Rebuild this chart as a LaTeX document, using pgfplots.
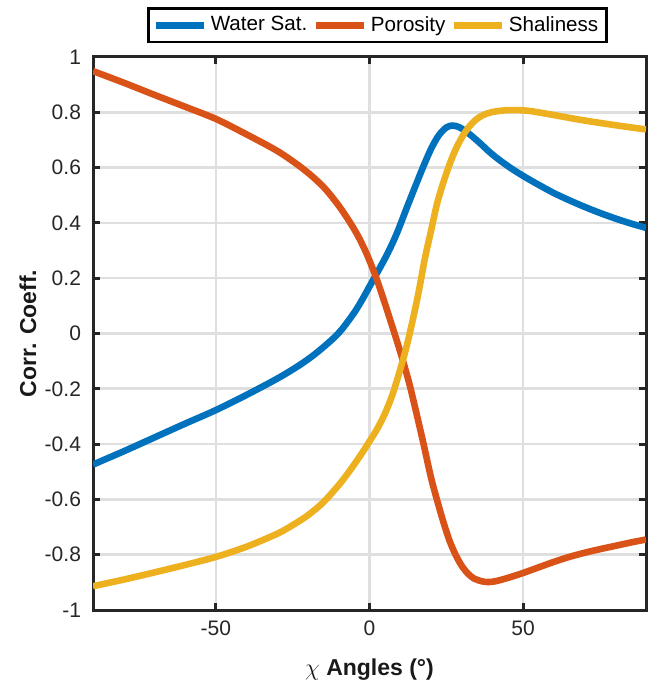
\documentclass[border=0pt]{standalone}
\usepackage{pgfplots}
\pgfplotsset{compat=1.18}
\usepackage{fontspec}
\setmainfont{Liberation Sans}
\definecolor{mblue}{rgb}{0,0.447,0.741}
\definecolor{morange}{rgb}{0.85,0.325,0.098}
\definecolor{myellow}{rgb}{0.929,0.694,0.125}
\begin{document}
\begin{tikzpicture}
\begin{axis}[name=ax, scale only axis, width=276.5pt, height=276.5pt,
  xmin=-90, xmax=90, ymin=-1, ymax=1,
  xtick={-50,0,50},
  ytick={-1,-0.8,-0.6,-0.4,-0.2,0,0.2,0.4,0.6,0.8,1},
  /pgf/number format/assume math mode=true,
  ticklabel style={font=\fontsize{10.5}{12}\selectfont, text=black!85},
  yticklabel style={xshift=-2.5pt},
  xticklabel style={yshift=-2pt},
  axis line style={line width=1.5pt, black!85},
  tick style={line width=1.5pt, black!85},
  major tick length=3.5pt,
  grid=major,
  major grid style={line width=1.3pt, gray!25},
  xlabel={$\chi$ \textbf{Angles (°)}},
  ylabel={\textbf{Corr. Coeff.}},
  label style={font=\fontsize{11.5}{13}\selectfont, text=black!90},
  xlabel style={at={(axis description cs:0.5,0)}, anchor=center, yshift=-30pt},
  ylabel style={at={(axis description cs:0,0.5)}, anchor=center, yshift=32.5pt},
  legend columns=3,
  legend style={at={(0.514,1.025)}, anchor=south, draw=black, line width=1.3pt,
    font=\fontsize{10.3}{12}\selectfont, inner xsep=2pt, inner ysep=1.8pt,
    /tikz/every even column/.append style={column sep=0.5pt}},
  legend image code/.code={\draw[#1] (0pt,0pt) -- (24pt,0pt);},
  every axis plot/.append style={line width=3.3pt, smooth},
]
\addplot[mblue] coordinates {
(-90,-0.474) (-80,-0.426) (-70,-0.376) (-60,-0.326) (-50,-0.277) (-40,-0.222)
(-30,-0.163) (-23,-0.116) (-17.7,-0.074) (-12.2,-0.022) (-9,0.015) (-5,0.075)
(-2.5,0.12) (0,0.17) (3,0.23) (6,0.292) (9,0.365) (12.5,0.465) (17,0.59)
(20,0.667) (22.5,0.716) (25,0.745) (27,0.752) (29,0.747) (31,0.734) (33,0.717)
(36,0.688) (39,0.657) (42,0.63) (46,0.598) (50,0.57) (55,0.538) (60,0.508)
(65,0.482) (70,0.458) (75,0.436) (80,0.416) (85,0.398) (90,0.382)
};
\addlegendentry{Water Sat.}
\addplot[morange] coordinates {
(-90,0.949) (-80,0.907) (-70,0.863) (-60,0.82) (-50,0.776) (-40,0.72) (-30,0.66)
(-23,0.607) (-18,0.562) (-14,0.518) (-10,0.462) (-7,0.413) (-4,0.358) (-1,0.29)
(2,0.207) (4.5,0.126) (7,0.04) (9,-0.03) (11,-0.103) (13,-0.183) (15,-0.275)
(17.5,-0.395) (20,-0.52) (22,-0.603) (24,-0.68) (26,-0.748) (28,-0.80) (30,-0.84)
(32,-0.868) (34,-0.886) (36.5,-0.896) (38.5,-0.899) (41,-0.896) (45,-0.884)
(50,-0.866) (55,-0.846) (60,-0.826) (65,-0.808) (70,-0.793) (75,-0.78) (80,-0.768)
(85,-0.756) (90,-0.745)
};
\addlegendentry{Porosity}
\addplot[myellow] coordinates {
(-90,-0.914) (-80,-0.89) (-70,-0.864) (-60,-0.837) (-50,-0.808) (-40,-0.771)
(-30,-0.724) (-25,-0.693) (-20,-0.657) (-15,-0.61) (-10,-0.548) (-7,-0.505)
(-4,-0.458) (-2,-0.425) (0,-0.39) (2.5,-0.345) (5,-0.29) (7.5,-0.22) (10,-0.13)
(12,-0.05) (14,0.045) (16,0.15) (18,0.27) (20,0.37) (22,0.47) (24,0.545) (26,0.61)
(28,0.665) (30,0.708) (32,0.742) (34.5,0.772) (37,0.79) (40,0.801) (44,0.807)
(48,0.808) (52,0.805) (57,0.796) (62,0.786) (68,0.774) (73,0.765) (79,0.755)
(84,0.747) (90,0.738)
};
\addlegendentry{Shaliness}
\end{axis}
\pgfresetboundingbox
\path ([shift={(-46.5pt,-39pt)}]ax.south west) rectangle ([shift={(4pt,28.5pt)}]ax.north east);
\end{tikzpicture}
\end{document}
